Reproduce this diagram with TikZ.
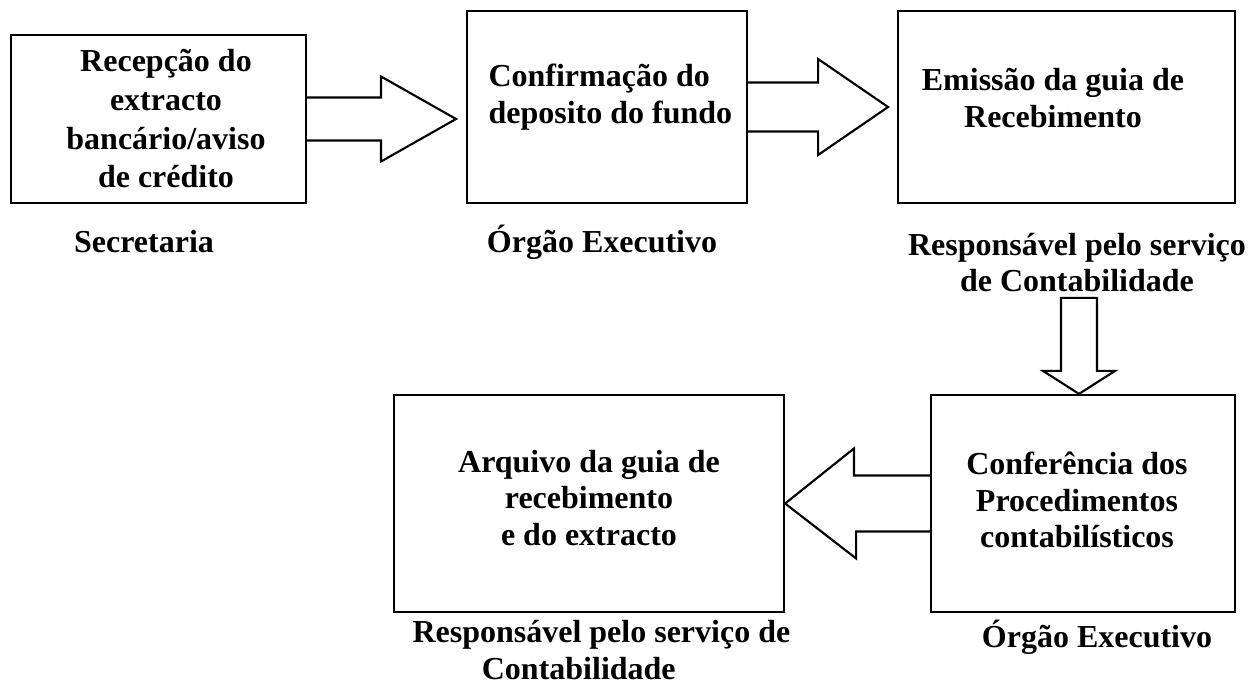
\documentclass[tikz,border=0pt]{standalone}
\usepackage{fontspec}
\setmainfont{Liberation Serif}
\usetikzlibrary{calc}

\begin{document}
\begin{tikzpicture}[x=0.375pt,y=-0.375pt,
    caixa/.style={draw,line width=0.8pt,inner sep=0pt},
    texto/.style={font=\fontsize{12}{13.8}\selectfont\bfseries,align=center,inner sep=0pt},
    seta/.style={draw,line width=0.8pt,line join=miter}]

      \useasboundingbox (0,0) rectangle (1250,684);

      % caixas
      \node[caixa,minimum width=110.6pt,minimum height=63pt] (rec) at (158.5,119) {};
      \node[caixa,minimum width=105pt,minimum height=72pt] (conf) at (607,107) {};
      \node[caixa,minimum width=126.4pt,minimum height=72pt] (emis) at (1066.5,107) {};
      \node[caixa,minimum width=114pt,minimum height=81.4pt] (confer) at (1083,503.5) {};
      \node[caixa,minimum width=146.3pt,minimum height=81.4pt] (arq) at (589,503.5) {};

      % textos das caixas
      \node[texto,font=\fontsize{12}{14.5}\selectfont\bfseries] (recTxt) at (166,119)
        {Recepção do\\extracto\\bancário/aviso\\de crédito};
      \node[texto,anchor=west,align=left] (confTxt) at (488,97)
        {Confirmação do\\deposito do fundo};
      \node[texto] (emisTxt) at (1053,98) {Emissão da guia de\\Recebimento};
      \node[texto] (conferTxt) at (1077,500)
        {Conferência dos\\Procedimentos\\contabilísticos};
      \node[texto] (arqTxt) at (589,498)
        {Arquivo da guia de\\recebimento\\e do extracto};

      % responsaveis
      \node[texto] (secLbl) at (144,242) {Secretaria};
      \node[texto] (orgLbl) at (602,242) {Órgão Executivo};
      \node[texto] (respLbl) at (1077,262.5) {Responsável pelo serviço\\de Contabilidade};
      \node[texto,anchor=west,align=left] (respLbl2) at (412,650)
        {Responsável pelo serviço de\\\hspace*{26pt}Contabilidade};
      \node[texto] (orgLbl2) at (1097,637) {Órgão Executivo};

      % setas
      \draw[seta] ($(rec.east)+(0,-21.5)$) -- ++(74,0) -- ++(0,-21) -- ++(75,42.5)
        -- ++(-75,42.5) -- ++(0,-21) -- ++(-74,0);
      \draw[seta] ($(conf.east)+(0,-24.5)$) -- ++(70,0) -- ++(0,-23.5) -- ++(70,48)
        -- ++(-70,48) -- ++(0,-23.5) -- ++(-70,0);
      \draw[seta] ($(confer.north)+(-4,0)$) -- ++(-36,-23) -- ++(18,0) -- ++(0,-73)
        -- ++(36,0) -- ++(0,73) -- ++(18,0) -- cycle;
      \draw[seta] ($(confer.west)+(0,-28)$) -- ++(-76,0) -- ++(0,-27) -- (arq.east)
        -- ++(71,55) -- ++(0,-27) -- ++(76,0);

    \end{tikzpicture}
\end{document}
